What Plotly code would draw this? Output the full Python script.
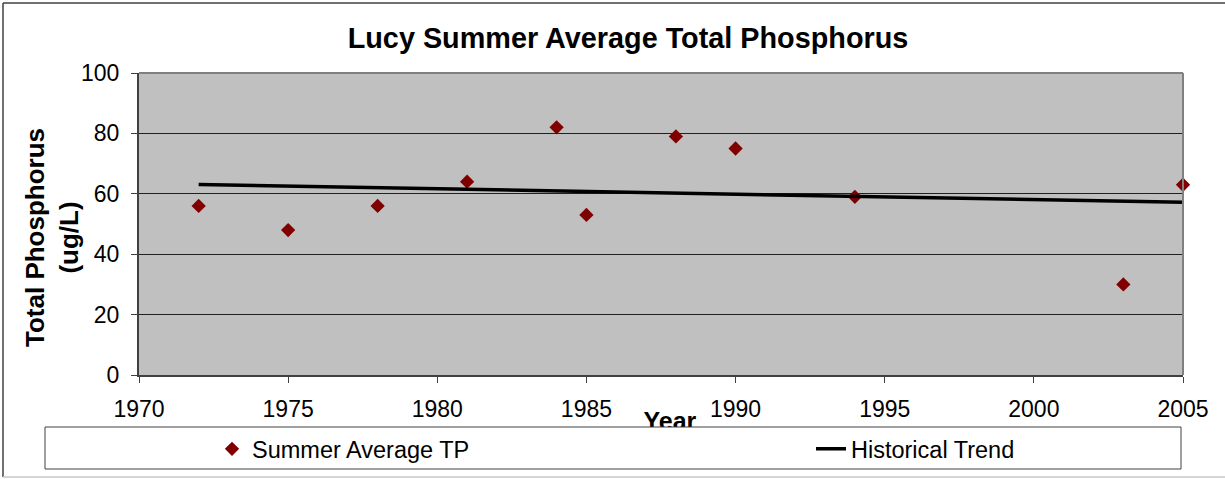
import plotly.graph_objects as go

years = [1972, 1975, 1978, 1981, 1984, 1985, 1988, 1990, 1994, 2003, 2005]
tp_values = [56, 48, 56, 64, 82, 53, 79, 75, 59, 30, 63]
trend_years = [1972, 2005]
trend_values = [63.1, 57.2]
x_ticks = [1970, 1975, 1980, 1985, 1990, 1995, 2000, 2005]
y_ticks = [0, 20, 40, 60, 80, 100]

W, H = 1225, 479
L, R, T, B = 139, 1183, 73, 375
pw, ph = R - L, B - T


def px(x):
    return (x - L) / pw


def py(y):
    return (B - y) / ph


FONT = "Liberation Sans, Arial, sans-serif"

fig = go.Figure()
fig.add_trace(go.Scatter(
    x=years, y=tp_values, mode="markers", name="Summer Average TP",
    marker=dict(symbol="diamond", size=11, color="#800000"),
    cliponaxis=False, legend="legend",
))
fig.add_trace(go.Scatter(
    x=trend_years, y=trend_values, mode="lines", name="Historical Trend",
    line=dict(color="black", width=3.5), legend="legend2",
))
# x-axis title drawn as trace text under the axis so the legend box overlaps it like the original
fig.add_trace(go.Scatter(
    x=[1987.8], y=[0.5], mode="text",
    text=["<br><span style='font-size:25px'><b>Year</b></span>"], textposition="bottom center",
    textfont=dict(family=FONT, size=27.5, color="black"),
    showlegend=False, cliponaxis=False, hoverinfo="skip",
))

leg_common = dict(orientation="h", xanchor="left", yanchor="middle",
                  bgcolor="rgba(0,0,0,0)", borderwidth=0,
                  font=dict(family=FONT, size=23.5, color="black"))

fig.update_layout(
    width=W, height=H,
    margin=dict(l=L, r=W - R, t=T, b=H - B, autoexpand=False),
    paper_bgcolor="white", plot_bgcolor="#C0C0C0",
    font=dict(family=FONT, size=23, color="black"),
    title=dict(text="<b>Lucy Summer Average Total Phosphorus</b>",
               font=dict(family=FONT, size=28.8, color="black"),
               x=px(628), xanchor="center", xref="paper",
               y=1 - 38 / H, yanchor="middle", yref="container"),
    showlegend=True,
    legend=dict(x=px(212), y=py(449), **leg_common),
    legend2=dict(x=px(811), y=py(449), **leg_common),
)
fig.update_xaxes(range=[1970, 2005], tickvals=x_ticks, ticks="outside", ticklen=6, tickcolor="#404040",
                 showgrid=False, zeroline=False, showline=True, linecolor="#404040", linewidth=2,
                 ticklabelstandoff=6, tickfont=dict(size=23))
fig.update_yaxes(range=[0, 100], tickvals=y_ticks, ticks="outside", ticklen=6, tickcolor="#404040",
                 showgrid=True, gridcolor="#202020", gridwidth=1, zeroline=False,
                 showline=True, linecolor="#404040", linewidth=2,
                 ticklabelstandoff=7, tickfont=dict(size=23))

# y-axis title
fig.add_annotation(text="<b>Total Phosphorus<br>(ug/L)</b>", textangle=-90,
                   x=px(52), y=py(238), xref="paper", yref="paper",
                   showarrow=False, font=dict(family=FONT, size=26, color="black"),
                   xanchor="center", yanchor="middle")

# plot area border (right/top lighter gray)
fig.add_shape(type="line", xref="paper", yref="paper", x0=1, x1=1, y0=0, y1=1,
              line=dict(color="#808080", width=2))
fig.add_shape(type="line", xref="paper", yref="paper", x0=0, x1=1, y0=1, y1=1,
              line=dict(color="#808080", width=2))
# legend box
fig.add_shape(type="rect", xref="paper", yref="paper", x0=px(45), x1=px(1181), y0=py(427), y1=py(469),
              line=dict(color="#404040", width=1), fillcolor="white", layer="above")
# outer chart border
fig.add_shape(type="line", xref="paper", yref="paper", x0=px(3), x1=px(3), y0=py(3), y1=py(477),
              line=dict(color="#404040", width=1.5))
fig.add_shape(type="line", xref="paper", yref="paper", x0=px(3), x1=px(1230), y0=py(3), y1=py(3),
              line=dict(color="#404040", width=1.5))
fig.add_shape(type="line", xref="paper", yref="paper", x0=px(3), x1=px(1230), y0=py(477), y1=py(477),
              line=dict(color="#C8C8C8", width=1.5))

fig.write_html("out.html", config={"displayModeBar": False},
               post_script="document.body.style.margin='0';document.body.style.overflow='hidden';")
